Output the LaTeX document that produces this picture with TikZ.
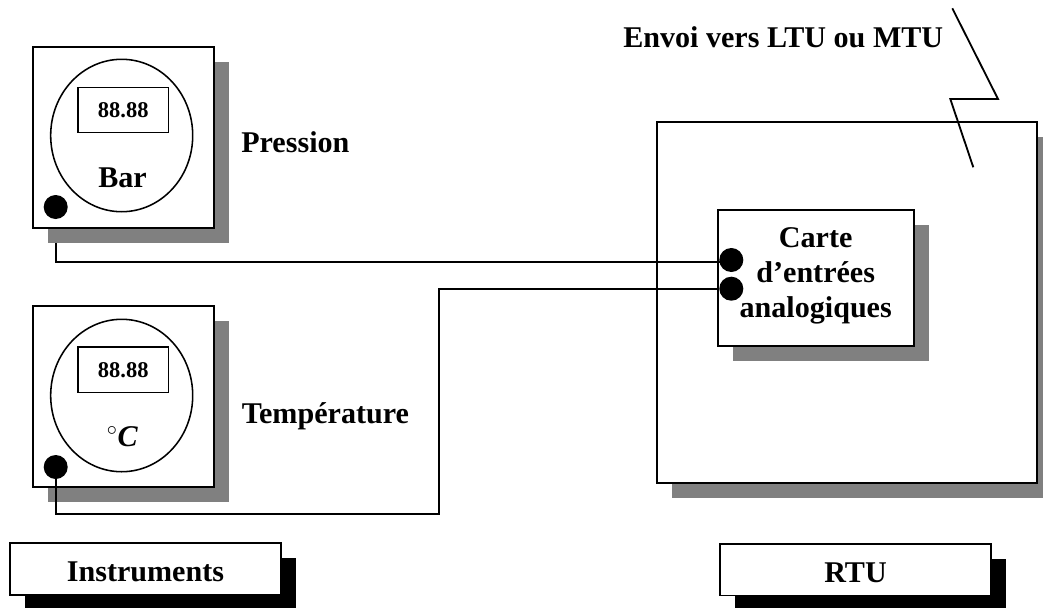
\documentclass[tikz,border=0pt]{standalone}
\usepackage{fontspec}
\setmainfont{Liberation Serif}
\usetikzlibrary{shadows,shapes.geometric}
\tikzset{
  wire/.style={line width=1.3pt,line join=miter},
  panel/.style={draw,line width=1.3pt,fill=white,inner sep=0pt,outer sep=0pt,
    drop shadow={shadow xshift=0.375cm,shadow yshift=-0.375cm,fill=black!50,opacity=1}},
  tag/.style={draw,line width=1.3pt,fill=white,inner sep=0pt,outer sep=0pt,
    font=\bfseries\fontsize{21.4}{25}\selectfont,text height=0.635cm,text depth=0pt,
    drop shadow={shadow xshift=0.375cm,shadow yshift=-0.375cm,fill=black,opacity=1}},
  instrument/.style={panel,minimum width=4.525cm,minimum height=4.525cm},
  dial/.style={draw,ellipse,line width=1.1pt,minimum width=3.55cm,minimum height=3.81cm,inner sep=0pt},
  readout/.style={draw,line width=1.1pt,minimum width=2.27cm,minimum height=1.135cm,inner sep=0pt,
    font=\bfseries\fontsize{16}{18}\selectfont},
  dot/.style={circle,fill=black,minimum size=0.6cm,inner sep=0pt,outer sep=0pt},
  label/.style={font=\bfseries\fontsize{21.4}{25}\selectfont,inner sep=0pt},
}
\begin{document}
\begin{tikzpicture}[x=0.025cm,y=-0.025cm]
  % Display coordinates: reference pixels, y downwards.
  \useasboundingbox (0,0) rectangle (1043,607);
  \clip (0,0) rectangle (1043,607);

  % RTU cabinet and its radio link.
  \node[panel,minimum width=9.5cm,minimum height=9.03cm] (cabinet) at (846.7,302.7) {};
  \coordinate (linktop) at (952.3,8.3);
  \coordinate (linkright) at (998,99);
  \coordinate (linkleft) at (950.3,99);
  \coordinate (linkend) at (973.3,167.3);
  \draw[wire] (linktop) -- (linkright) -- (linkleft) -- (linkend);
  \node[label,anchor=west] (envoi) at (623,37) {Envoi vers LTU ou MTU};

  % Analog input card.
  \node[panel,minimum width=4.91cm,minimum height=3.39cm] (carte) at (815.9,277.8) {};
  \node[label,align=center] (cartetext) at (815.7,276)
    {Carte\\d’entrées\\analogiques};
  \node[dot] (inpres) at (731.3,260) {};
  \node[dot] (intemp) at (731.3,288.7) {};
  \coordinate (presin) at (725,262);

  % Pressure wire, it leaves from under the instrument shadow.
  \coordinate (presout) at (55.7,235);
  \draw[wire] (presout) |- (presin);

  % Pressure instrument.
  \node[instrument] (pressure) at (123.2,137.2) {};
  \node[dial] (pressdial) at (121.7,135.5) {};
  \node[readout] (pressread) at (123.3,110) {88.88};
  \node[label] (bar) at (122.5,178) {Bar};
  \node[dot] (pressdot) at (55.7,207) {};
  \node[label,anchor=west] (pression) at (241,142) {Pression};

  % Temperature instrument.
  \node[instrument] (temperature) at (123.2,396.8) {};
  \node[dial] (tempdial) at (121.7,395.5) {};
  \node[readout] (tempread) at (123.3,369.7) {88.88};
  \node[label] (degree) at (122.5,436.7) {$^\circ$\textit{C}};
  \node[dot] (tempdot) at (55.7,467) {};
  \node[label,anchor=west] (temptext) at (241.5,416) {Température};

  % Temperature wire.
  \coordinate (tempturn) at (439,514);
  \draw[wire] (tempdot.center) |- (tempturn) |- (intemp);

  % Captions.
  \node[tag,minimum width=6.79cm,minimum height=1.285cm] (instruments) at (145.5,569) {Instruments};
  \node[tag,minimum width=6.79cm,minimum height=1.285cm] (rtu) at (855.5,569.8) {RTU};
\end{tikzpicture}
\end{document}
